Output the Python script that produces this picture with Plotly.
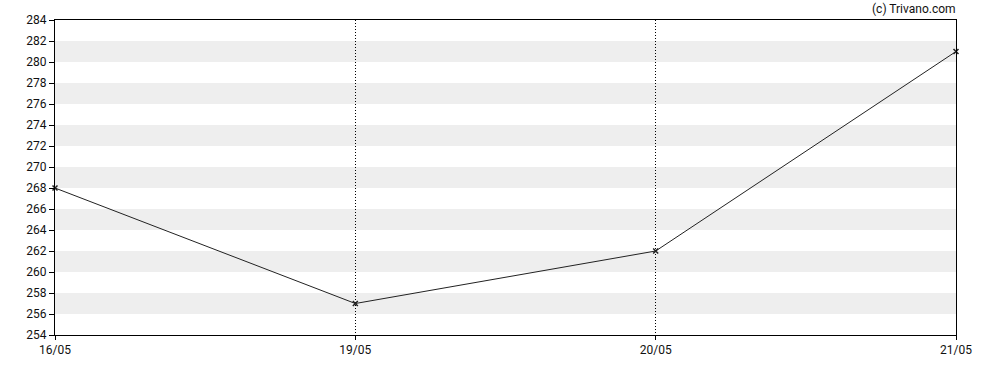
import plotly.graph_objects as go

dates = ["16/05", "19/05", "20/05", "21/05"]
prices = [268, 257, 262, 281]
y_ticks = list(range(254, 286, 2))
band_starts = [256, 260, 264, 268, 272, 276, 280]
band_width = 2

x_pos = list(range(len(dates)))

fig = go.Figure()
fig.add_trace(go.Scatter(
    x=x_pos, y=prices, mode="lines+markers",
    line=dict(color="#222222", width=1),
    marker=dict(symbol="x-thin", size=5, color="#222222",
                line=dict(width=1.5, color="#222222")),
    hoverinfo="skip", showlegend=False, cliponaxis=False,
))

shapes = []
for b in band_starts:
    shapes.append(dict(type="rect", xref="paper", yref="y", x0=0, x1=1,
                       y0=b, y1=b + band_width, fillcolor="#eeeeee",
                       line=dict(width=0), layer="below"))

fig.update_layout(
    width=988, height=370,
    margin=dict(l=55, r=32, t=20, b=35, autoexpand=False),
    plot_bgcolor="white", paper_bgcolor="white",
    font=dict(family="Roboto", size=12, color="#111111"),
    shapes=shapes,
    xaxis=dict(
        range=[0, len(dates) - 1], tickvals=x_pos, ticktext=dates,
        showline=True, linecolor="black", linewidth=1, mirror=True,
        ticks="outside", ticklen=4, tickcolor="black",
        showgrid=True, gridcolor="black", gridwidth=1, griddash="1px,2px",
        zeroline=False, fixedrange=True, automargin=False,
    ),
    yaxis=dict(
        range=[254, 284], tickvals=y_ticks,
        showline=True, linecolor="black", linewidth=1, mirror=True,
        ticks="outside", ticklen=5, tickcolor="black",
        showgrid=False, zeroline=False, fixedrange=True, automargin=False,
    ),
    annotations=[dict(text="(c) Trivano.com", xref="paper", yref="paper",
                      x=1, y=1, xanchor="right", yanchor="bottom", yshift=2,
                      xshift=2, showarrow=False,
                      font=dict(size=12, color="#111111"))],
)

fig.write_html(
    "out.html",
    config={"displayModeBar": False},
    post_script="document.body.style.margin='0';document.body.style.overflow='hidden';",
)
